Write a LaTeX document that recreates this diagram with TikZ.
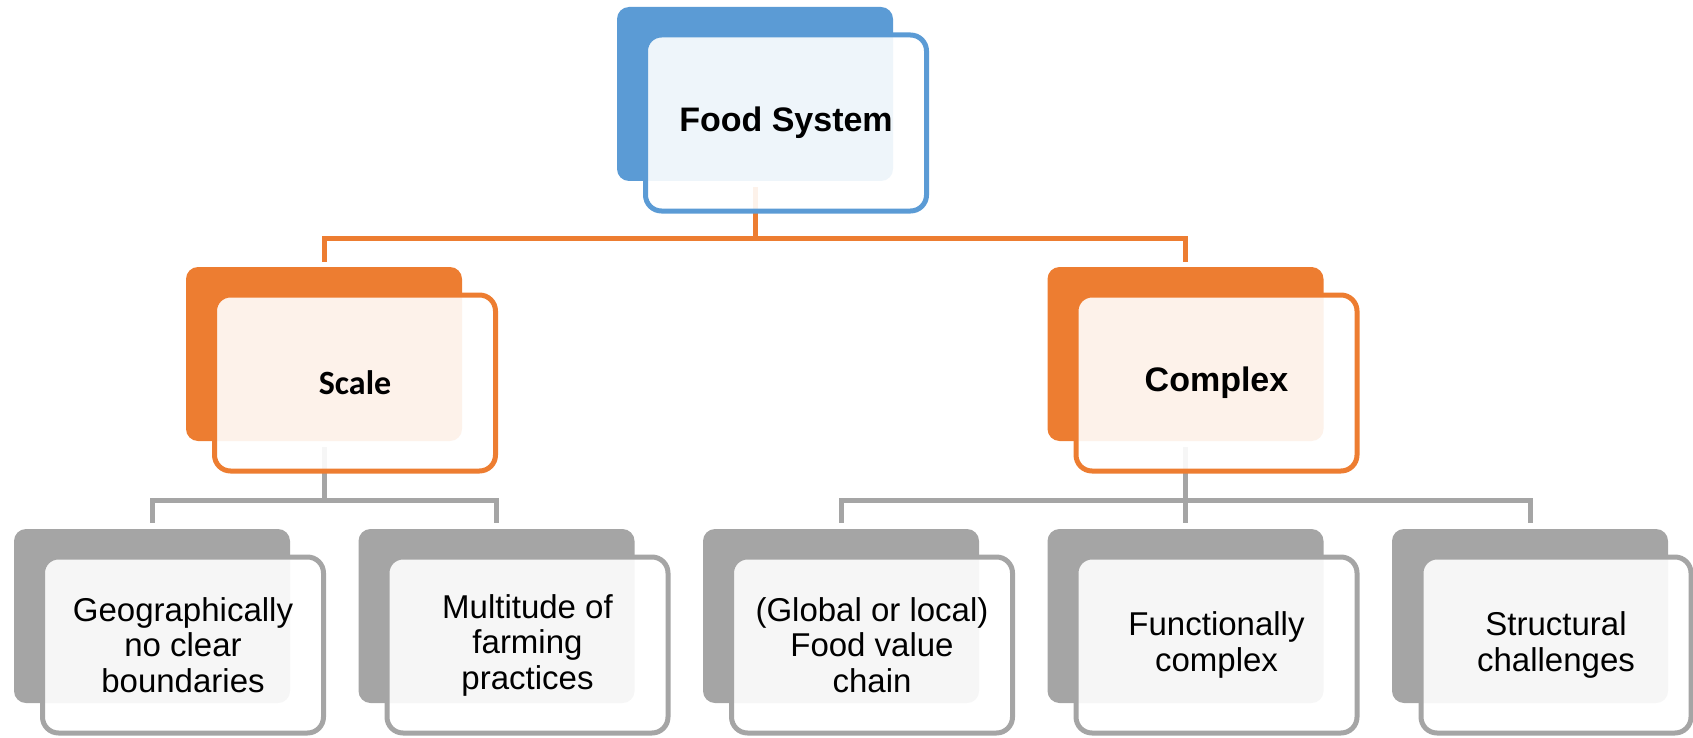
\documentclass[tikz,border=0pt]{standalone}
\usepackage{fontspec}
\setmainfont{Liberation Sans}
\newfontfamily\calibri{Carlito}

\definecolor{fsblue}{HTML}{5B9BD5}
\definecolor{fsorange}{HTML}{ED7D31}
\definecolor{fsgray}{HTML}{A5A5A5}

\begin{document}
\begin{tikzpicture}[x=1pt, y=-1pt, font=\fontsize{34}{37}\selectfont,
    backbox/.style={rectangle, rounded corners=12pt, fill=#1, minimum width=276pt, minimum height=174pt, inner sep=0pt},
    frontbox/.style={rectangle, rounded corners=16pt, draw=#1, line width=5pt, fill=white, fill opacity=0.9, text opacity=1,
        minimum width=281pt, minimum height=176pt, xshift=31pt, yshift=-29pt, align=center, inner sep=0pt},
    leafbox/.style={frontbox=fsgray, font=\fontsize{33}{35.5}\selectfont},
    conn/.style={draw=#1, line width=5pt}]
				\useasboundingbox (0,0) rectangle (1693,738);
				
				% back plates
				\node[backbox=fsblue] (fsb) at (755, 94) {};
				\node[backbox=fsorange] (scb) at (324, 354) {};
				\node[backbox=fsorange] (cxb) at (1185.5, 354) {};
				\node[backbox=fsgray] (geob) at (152, 616) {};
				\node[backbox=fsgray] (mulb) at (496.5, 616) {};
				\node[backbox=fsgray] (valb) at (841, 616) {};
				\node[backbox=fsgray] (funb) at (1185.5, 616) {};
				\node[backbox=fsgray] (strb) at (1530, 616) {};
				
				\coordinate (topbus) at (755, 238);
				\coordinate (scbus) at (324, 500);
				\coordinate (cxbus) at (1185.5, 500);
				
				% connectors, under the front boxes
				\draw[conn=fsorange] ([yshift=-6pt]fsb.south) -- (topbus);
				\draw[conn=fsorange] ([yshift=5pt]scb.north) |- (topbus) -| ([yshift=5pt]cxb.north);
				\draw[conn=fsgray] ([yshift=-6pt]scb.south) -- (scbus);
				\draw[conn=fsgray] ([yshift=6pt]geob.north) |- (scbus) -| ([yshift=6pt]mulb.north);
				\draw[conn=fsgray] ([yshift=-6pt]cxb.south) -- ([yshift=6pt]funb.north);
				\draw[conn=fsgray] ([yshift=6pt]valb.north) |- (cxbus) -| ([yshift=6pt]strb.north);
				
				% front boxes with the text
				\node[frontbox=fsblue] (fs) at (fsb) {\textbf{Food System}};
				\node[frontbox=fsorange] (sc) at (scb) {\calibri\bfseries Scale};
				\node[frontbox=fsorange] (cx) at (cxb) {\textbf{Complex}};
				\node[leafbox] (geo) at (geob) {Geographically\\no clear\\boundaries};
				\node[leafbox] (mul) at (mulb) {Multitude of\\farming\\practices};
				\node[leafbox] (val) at (valb) {(Global or local)\\Food value\\chain};
				\node[leafbox] (fun) at (funb) {Functionally\\complex};
				\node[leafbox, minimum width=270pt, xshift=-5pt] (str) at (strb) {Structural\\challenges};
			\end{tikzpicture}
\end{document}
